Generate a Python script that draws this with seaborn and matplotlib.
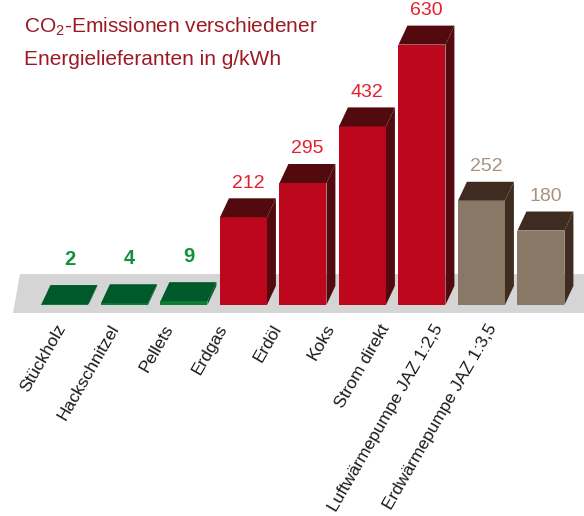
import numpy as np
import pandas as pd
import matplotlib.pyplot as plt
import seaborn as sns
from matplotlib.patches import Polygon

# data
categories = ['Stückholz', 'Hackschnitzel', 'Pellets', 'Erdgas', 'Erdöl', 'Koks',
              'Strom direkt', 'Luftwärmepumpe JAZ 1:2,5', 'Erdwärmepumpe JAZ 1:3,5']
emissions = [2, 4, 9, 212, 295, 432, 630, 252, 180]
groups = ['holz'] * 3 + ['fossil'] * 4 + ['wp'] * 2

front_col = {'holz': '#0b7d37', 'fossil': '#bd071c', 'wp': '#8a7866'}
shade_col = {'holz': '#00592a', 'fossil': '#520a0e', 'wp': '#3f2b1f'}
label_col = {'holz': '#12913c', 'fossil': '#e41f2e', 'wp': '#a8927e'}

df = pd.DataFrame({'cat': categories, 'val': emissions, 'grp': groups})

sns.set_theme(style='white')
plt.rcParams['font.family'] = ['Liberation Sans', 'DejaVu Sans']
plt.rcParams['mathtext.default'] = 'regular'

fig = plt.figure(figsize=(5.84, 5.16), dpi=100)
ax = fig.add_axes([0, 0, 1, 1])

# pseudo 3d depth of the bars (x in category units, y in g/kWh)
DX, DY = 0.15, 46

# grey floor
floor = Polygon([(-0.76, 75), (9, 75), (9, -19), (-0.87, -19)],
                closed=True, facecolor='#d5d5d5', edgecolor='none', zorder=0)
ax.add_patch(floor)

palette = [front_col[g] for g in groups]
sns.barplot(data=df, x='cat', y='val', hue='cat', palette=palette, legend=False,
            width=0.79, saturation=1, ax=ax, zorder=2, linewidth=0)

bars = sorted([p for p in ax.patches if p is not floor], key=lambda p: p.get_x())
for bar, g, v in zip(bars, groups, emissions):
    x0 = bar.get_x()
    x1 = x0 + bar.get_width()
    h = bar.get_height()
    side = Polygon([(x1, 0), (x1 + DX, DY), (x1 + DX, h + DY), (x1, h)],
                   closed=True, facecolor=shade_col[g], edgecolor='none', zorder=3)
    top = Polygon([(x0, h), (x0 + DX, h + DY), (x1 + DX, h + DY), (x1, h)],
                  closed=True, facecolor=shade_col[g], edgecolor='none', zorder=3)
    ax.add_patch(side)
    ax.add_patch(top)
    cx = x0 + bar.get_width() / 2 + DX / 2
    if g == 'holz':
        ax.text(cx, h + DY + 40, str(v), ha='center', va='bottom', fontsize=14.5,
                fontweight='bold', color=label_col[g], zorder=4)
    else:
        ax.text(cx, h + DY + 16, str(v), ha='center', va='bottom', fontsize=14,
                color=label_col[g], zorder=4)

# rotated category labels
lab_x = np.arange(len(categories)) * 0.906 - 0.05
for lx, name in zip(lab_x, categories):
    ax.text(lx, -50, name, rotation=60, rotation_mode='anchor', ha='right',
            va='center', fontsize=12.5, color='#1a1a1a')

ax.set_xlim(-1.092, 8.723)
ax.set_ylim(-511, 738)
ax.set_axis_off()

title_font = ['Liberation Sans Narrow', 'Liberation Sans', 'DejaVu Sans']
fig.text(0.041, 0.936, 'CO$_2$-Emissionen verschiedener', fontsize=15,
         color='#9c1a24', family=title_font, va='baseline')
fig.text(0.041, 0.874, 'Energielieferanten in g/kWh', fontsize=15,
         color='#9c1a24', family=title_font, va='baseline')

fig.savefig('out.png', dpi=100)
